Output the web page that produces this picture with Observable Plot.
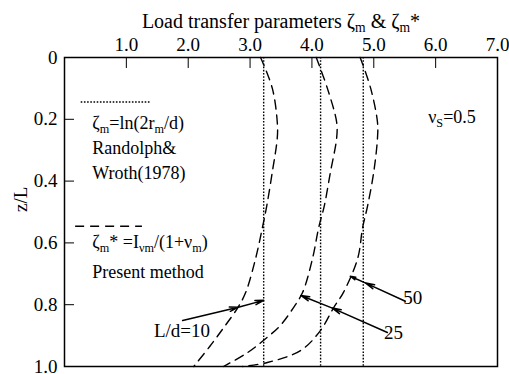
<!DOCTYPE html>
<html>
<head>
<meta charset="utf-8">
<script src="https://cdn.jsdelivr.net/npm/d3@7"></script>
<script src="https://cdn.jsdelivr.net/npm/@observablehq/plot@0.6"></script>
<style>
  html, body { margin: 0; padding: 0; background: #fff; }
  #chart svg { display: block; }
  #chart svg, #chart svg text, #chart svg tspan, #chart svg g {
    font-family: "Liberation Serif", "DejaVu Serif", "Noto Serif", "Times New Roman", Times, serif !important;
  }
</style>
</head>
<body>
<div id="chart"></div>
<script>
// Pile slenderness ratios L/d
const slenderness = [10, 25, 50];

// Randolph & Wroth (1978): constant ζm with depth, one value per L/d
const randolphZeta = [3.22, 4.14, 4.83];

// Present method ζm* along the pile (depth z/L and value), one series per L/d
const depth10 = [0, 0.10, 0.21, 0.26, 0.37, 0.48, 0.55, 0.65, 0.76, 0.81, 0.867, 0.932, 1.0];
const zeta10  = [3.17, 3.36, 3.44, 3.44, 3.36, 3.27, 3.20, 3.09, 2.93, 2.80, 2.60, 2.36, 2.09];

const depth25 = [0, 0.10, 0.21, 0.26, 0.37, 0.48, 0.55, 0.65, 0.76, 0.81, 0.867, 0.91, 0.955, 1.0];
const zeta25  = [4.07, 4.25, 4.40, 4.40, 4.30, 4.20, 4.11, 4.01, 3.85, 3.70, 3.49, 3.25, 2.96, 2.57];

const depth50 = [0, 0.10, 0.21, 0.26, 0.37, 0.48, 0.55, 0.65, 0.76, 0.81, 0.883, 0.948, 0.987, 1.0];
const zeta50  = [4.78, 4.95, 5.06, 5.06, 5.00, 4.90, 4.82, 4.74, 4.51, 4.35, 4.14, 3.82, 3.28, 2.88];

// Axis ticks and their labels
const xTicks = [1, 2, 3, 4, 5, 6, 7];
const xTickLabels = ["1.0", "2.0", "3.0", "4.0", "5.0", "6.0", "7.0"];
const yTicks = [0, 0.2, 0.4, 0.6, 0.8, 1.0];
const yTickLabels = ["0", "0.2", "0.4", "0.6", "0.8", "1.0"];

// Callout arrows: label, start, intermediate head, final head (data units)
const calloutLabels = ["L/d=10", "25", "50"];
const calloutStartX = [1.91, 5.22, 5.51];
const calloutStartY = [0.851, 0.890, 0.789];
const calloutMidX   = [2.81, 4.33, 4.87];
const calloutMidY   = [0.808, 0.811, 0.730];
const calloutTipX   = [3.22, 3.82, 4.62];
const calloutTipY   = [0.786, 0.770, 0.708];
const calloutTextX  = [1.90, 5.32, 5.63];
const calloutTextY  = [0.884, 0.890, 0.779];
const calloutAnchor = ["end", "start", "start"];

// Legend entries (text uses _{..} for subscripts)
const legendDottedX = [0.27, 1.39], legendDottedY = 0.144;
const legendDashedX = [0.18, 1.26], legendDashedY = 0.546;
const legendLines = ["ζ_{m}=ln(2r_{m}/d)", "Randolph&", "Wroth(1978)", "ζ_{m}* =I_{νm}/(1+ν_{m})", "Present method"];
const legendLineY = [0.212, 0.294, 0.375, 0.598, 0.695];
const legendTextX = 0.45;

const noteText = "ν_{S}=0.5", noteX = 5.88, noteY = 0.193;
const titleText = "Load transfer parameters ζ_{m} & ζ_{m}*";
const yLabelText = "z/L";

// Build long tables for the library
const presentRows = [
  ...depth10.map((z, i) => ({ld: 10, z, zeta: zeta10[i]})),
  ...depth25.map((z, i) => ({ld: 25, z, zeta: zeta25[i]})),
  ...depth50.map((z, i) => ({ld: 50, z, zeta: zeta50[i]}))
];
const callouts = calloutLabels.map((label, i) => ({
  label,
  x0: calloutStartX[i], y0: calloutStartY[i],
  xm: calloutMidX[i], ym: calloutMidY[i],
  x1: calloutTipX[i], y1: calloutTipY[i],
  tx: calloutTextX[i], ty: calloutTextY[i], anchor: calloutAnchor[i]
}));
const legendRows = legendLines.map((t, i) => ({t, y: legendLineY[i]}));

const dashes = "9,6";
const dots = "1.6,1.6";
const serif = "Liberation Serif, DejaVu Serif, serif";

const chart = Plot.plot({
  width: 509,
  height: 374,
  marginLeft: 64,
  marginRight: 12,
  marginTop: 57,
  marginBottom: 8,
  x: {domain: [0, 7]},
  y: {domain: [0, 1], reverse: true},
  style: {fontSize: "18px", background: "#fff", color: "#000"},
  marks: [
    Plot.ruleX(randolphZeta, {stroke: "#000", strokeWidth: 1.4, strokeDasharray: dots}),
    Plot.line(presentRows, {x: "zeta", y: "z", z: "ld", curve: "catmull-rom", stroke: "#000", strokeWidth: 1.4, strokeDasharray: dashes}),

    // legend samples
    Plot.ruleY([legendDottedY], {x1: legendDottedX[0], x2: legendDottedX[1], stroke: "#000", strokeWidth: 1.4, strokeDasharray: dots}),
    Plot.ruleY([legendDashedY], {x1: legendDashedX[0], x2: legendDashedX[1], stroke: "#000", strokeWidth: 1.4, strokeDasharray: dashes}),
    Plot.text(legendRows, {x: legendTextX, y: "y", text: "t", textAnchor: "start", fontSize: 18}),
    Plot.text([noteText], {x: noteX, y: noteY, text: d => d, textAnchor: "start", fontSize: 18}),

    // callouts
    Plot.arrow(callouts, {x1: "x0", y1: "y0", x2: "xm", y2: "ym", stroke: "#000", strokeWidth: 1.5, headLength: 9, headAngle: 28}),
    Plot.arrow(callouts, {x1: "xm", y1: "ym", x2: "x1", y2: "y1", stroke: "#000", strokeWidth: 1.5, headLength: 9, headAngle: 28}),
    Plot.text(callouts, {x: "tx", y: "ty", text: "label", textAnchor: "anchor", fontSize: 19}),

    // axes (ticks point into the frame)
    Plot.axisX({anchor: "top", ticks: xTicks, tickSize: -10, tickPadding: 17, tickFormat: d => xTickLabels[xTicks.indexOf(d)], label: null, fontSize: 19}),
    Plot.axisY({anchor: "left", ticks: yTicks, tickSize: -10, tickPadding: 17, tickFormat: d => yTickLabels[yTicks.indexOf(d)], label: null, fontSize: 19}),
    Plot.text([titleText], {frameAnchor: "top", dy: -44, text: d => d, fontSize: 20}),
    Plot.text([yLabelText], {frameAnchor: "left", dx: -44, rotate: -90, text: d => d, fontSize: 19}),
    Plot.frame({stroke: "#000", strokeWidth: 1.5})
  ]
});

// Render _{...} segments as subscripts
function applySubscripts(svg) {
  svg.querySelectorAll("text").forEach(el => {
    const s = el.textContent;
    if (!s.includes("_{")) return;
    const fs = parseFloat(getComputedStyle(el).fontSize) || 18;
    const shift = fs * 0.22;
    while (el.firstChild) el.removeChild(el.firstChild);
    const parts = s.split(/(_\{[^}]*\})/);
    const ns = "http://www.w3.org/2000/svg";
    let lowered = false;
    parts.forEach(p => {
      if (!p) return;
      const t = document.createElementNS(ns, "tspan");
      if (p.startsWith("_{")) {
        t.textContent = p.slice(2, -1);
        t.setAttribute("font-size", (fs * 0.68).toFixed(1));
        t.setAttribute("dy", lowered ? 0 : shift);
        lowered = true;
      } else {
        t.textContent = p;
        if (lowered) { t.setAttribute("dy", -shift); lowered = false; }
      }
      el.appendChild(t);
    });
  });
}

chart.style.fontFamily = serif;
document.getElementById("chart").appendChild(chart);
applySubscripts(chart);
</script>
</body>
</html>
